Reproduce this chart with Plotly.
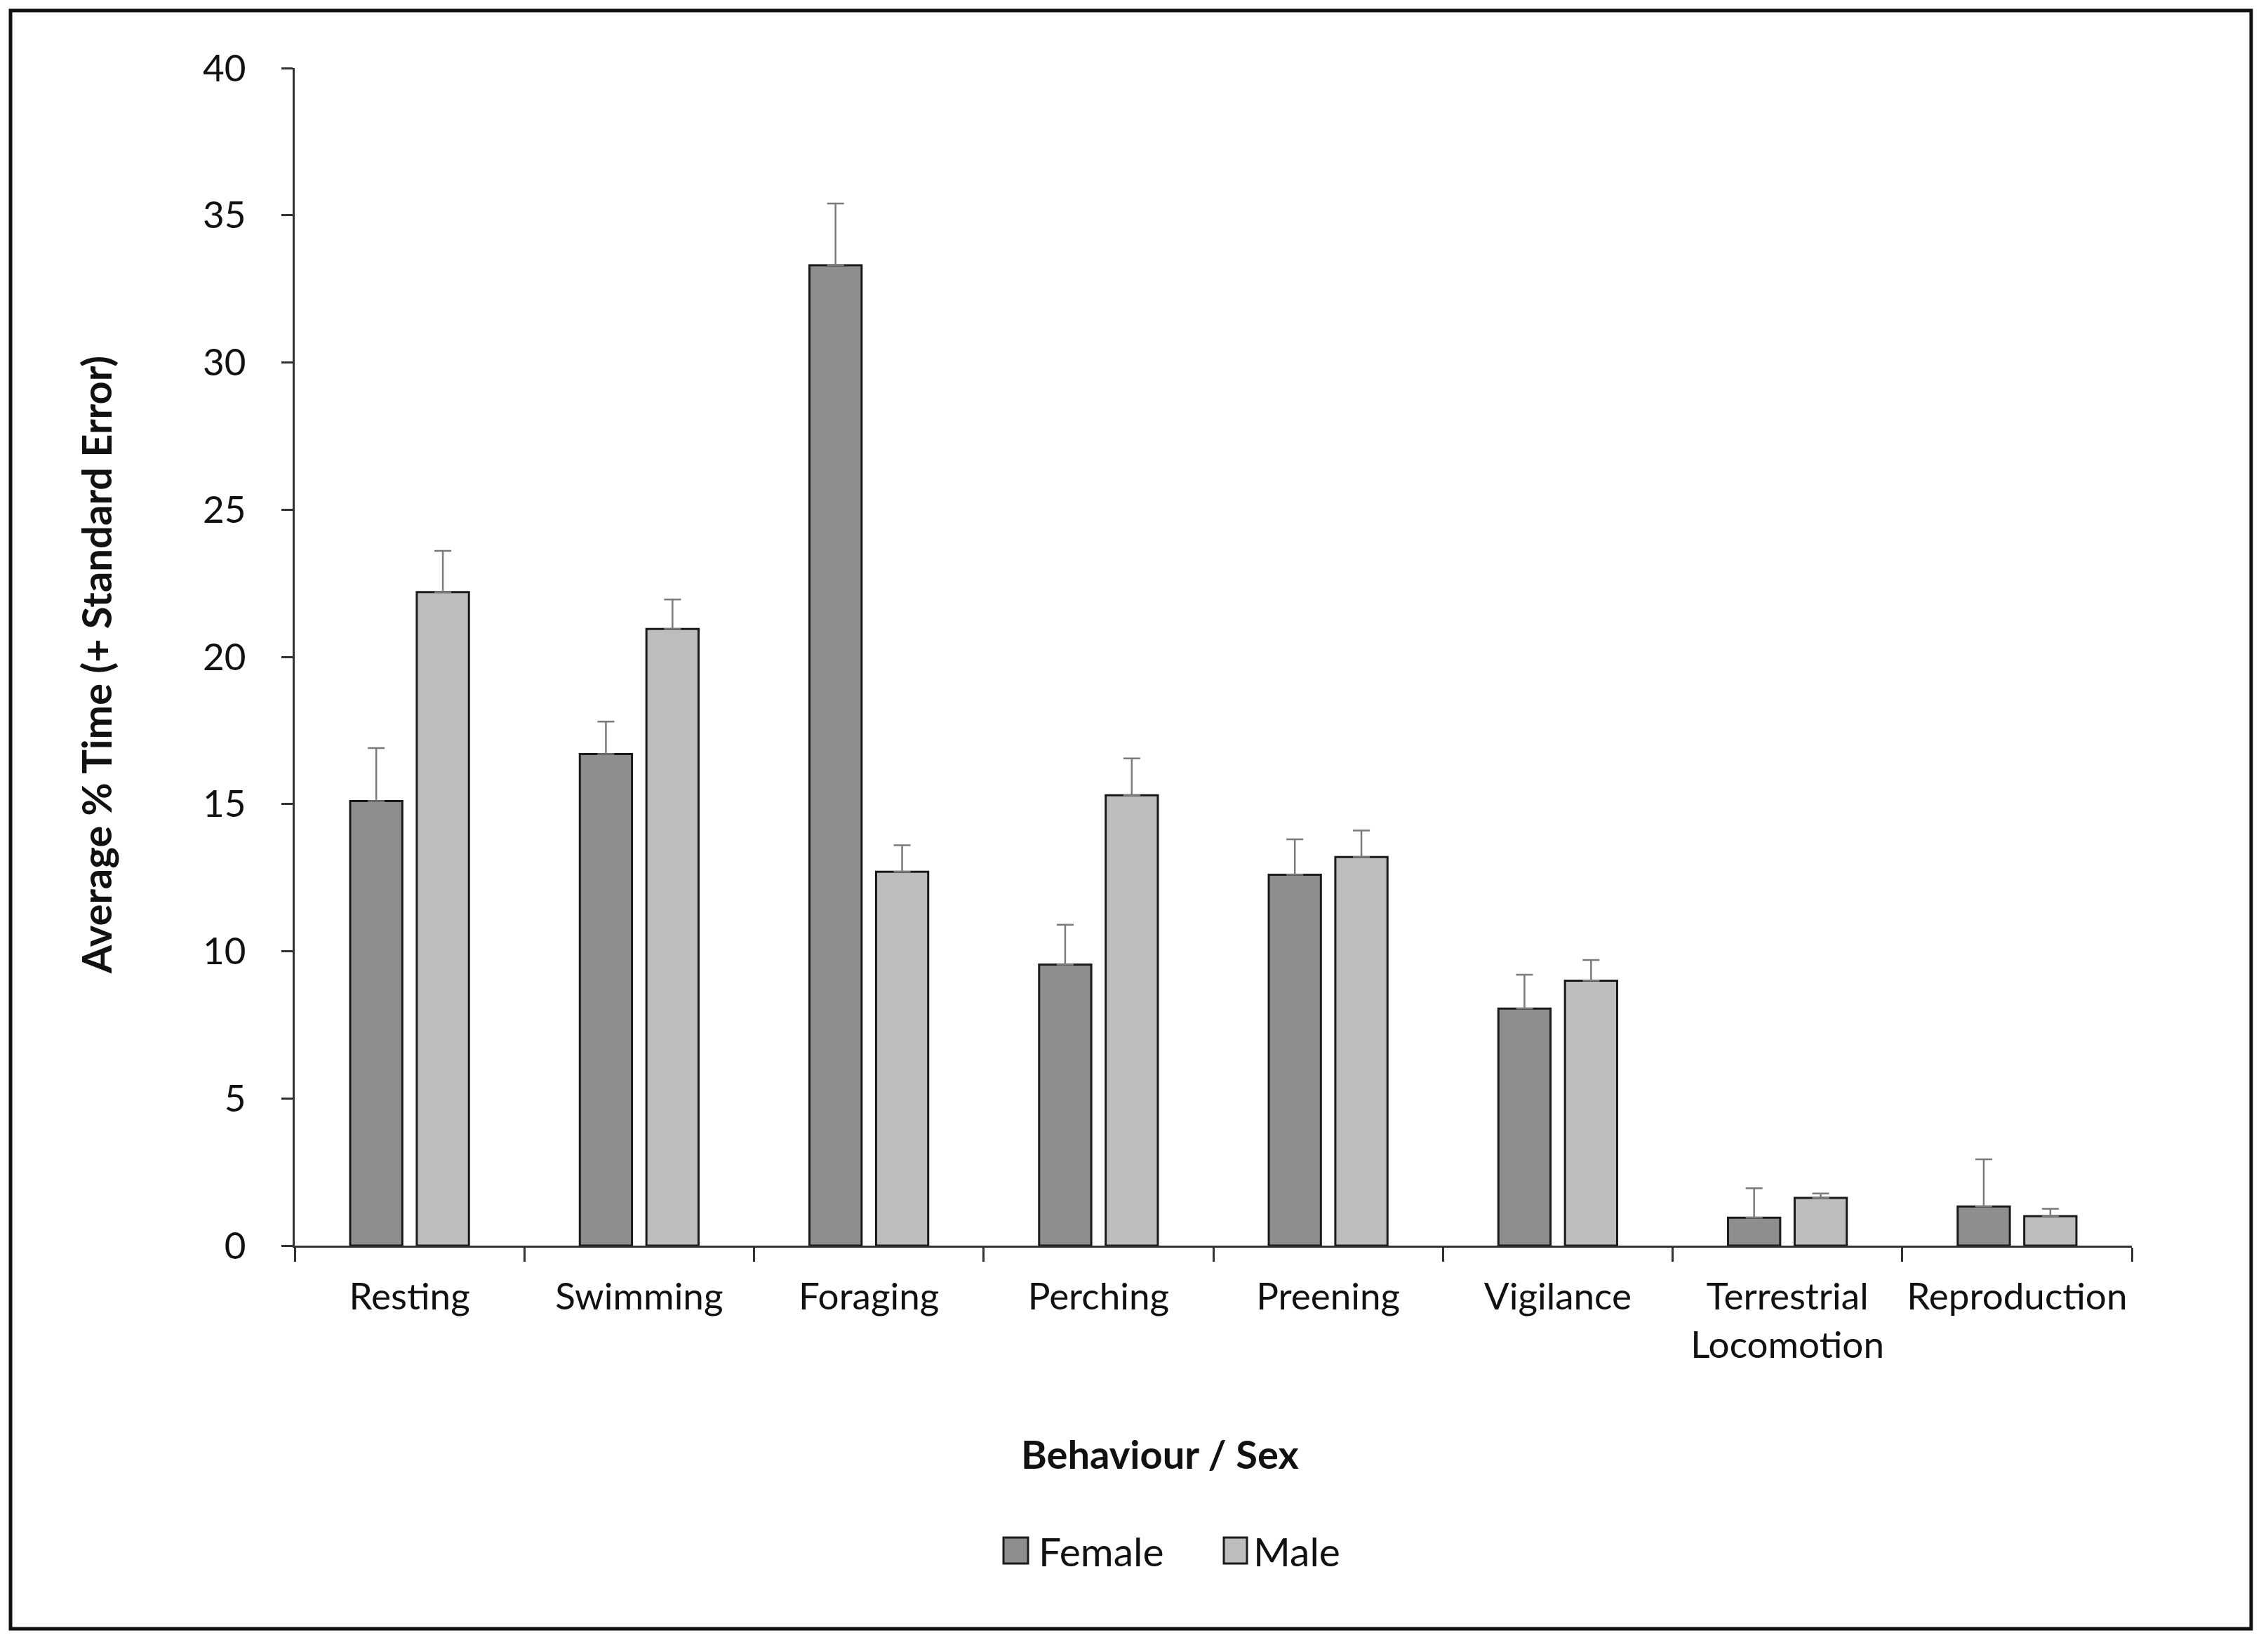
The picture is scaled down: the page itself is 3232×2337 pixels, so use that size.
import plotly.graph_objects as go

categories = ["Resting", "Swimming", "Foraging", "Perching", "Preening",
              "Vigilance", "Terrestrial<br>Locomotion", "Reproduction"]
female = [15.1, 16.7, 33.3, 9.55, 12.6, 8.05, 0.95, 1.33]
female_se = [1.8, 1.1, 2.1, 1.35, 1.2, 1.15, 1.0, 1.6]
male = [22.2, 20.95, 12.7, 15.3, 13.2, 9.0, 1.62, 1.0]
male_se = [1.4, 1.0, 0.9, 1.25, 0.9, 0.7, 0.15, 0.25]
series_names = ["Female", "Male"]
y_ticks = [0, 5, 10, 15, 20, 25, 30, 35, 40]

FEMALE_COLOR = "#8e8e8e"
MALE_COLOR = "#bdbdbd"
FONT = "Lato"
TEXT = "#111111"

# page geometry (browser body has an 8px margin)
OFF = 8
PAGE_W, PAGE_H = 3232, 2337
PLOT_L, PLOT_R, PLOT_T, PLOT_B = 420, 3038, 97, 1775
W, H = PAGE_W - OFF, PAGE_H - OFF
ML, MT = PLOT_L - OFF, PLOT_T - OFF
MR, MB = PAGE_W - PLOT_R, PAGE_H - PLOT_B
PW, PH = PLOT_R - PLOT_L, PLOT_B - PLOT_T


def px(x):
    return (x - PLOT_L) / PW


def py(y):
    return (PLOT_B - y) / PH


fig = go.Figure()
for name, vals, errs, col in [(series_names[0], female, female_se, FEMALE_COLOR),
                              (series_names[1], male, male_se, MALE_COLOR)]:
    fig.add_trace(go.Bar(
        name=name, x=categories, y=vals,
        marker=dict(color=col, line=dict(color="#1a1a1a", width=3)),
        error_y=dict(type="data", array=errs, symmetric=False,
                     arrayminus=[0] * len(errs),
                     color="#7a7a7a", thickness=2.5, width=12),
    ))

fig.update_layout(
    width=W, height=H,
    margin=dict(l=ML, r=MR, t=MT, b=MB),
    paper_bgcolor="white", plot_bgcolor="white",
    barmode="group", bargap=0.42, bargroupgap=0.217,
    showlegend=False,
    font=dict(family=FONT, size=53, color=TEXT),
)
fig.update_xaxes(
    type="category", tickson="boundaries", ticks="outside", ticklen=20,
    tickwidth=3, tickcolor="#333333",
    showline=True, linecolor="#333333", linewidth=3,
    showgrid=False, zeroline=False,
    tickfont=dict(family=FONT, size=53, color=TEXT),
    ticklabelstandoff=24,
)
fig.update_yaxes(
    range=[0, 40], tickvals=y_ticks, ticks="outside", ticklen=16,
    tickwidth=3, tickcolor="#333333",
    showline=True, linecolor="#333333", linewidth=3,
    showgrid=False, zeroline=False,
    tickfont=dict(family=FONT, size=53, color=TEXT),
    ticklabelstandoff=40,
)

annotations = [
    dict(text="<b>Average % Time (+ Standard Error)</b>", xref="paper", yref="paper",
         x=px(136), y=py(948), textangle=-90, showarrow=False,
         font=dict(family=FONT, size=58, color=TEXT), xanchor="center", yanchor="middle"),
    dict(text="<b>Behaviour / Sex</b>", xref="paper", yref="paper",
         x=px(1653), y=py(2071), showarrow=False,
         font=dict(family=FONT, size=56, color=TEXT), xanchor="center", yanchor="middle"),
    dict(text=series_names[0], xref="paper", yref="paper",
         x=px(1478), y=py(2210), showarrow=False, xanchor="left", yanchor="middle",
         font=dict(family=FONT, size=57, color=TEXT)),
    dict(text=series_names[1], xref="paper", yref="paper",
         x=px(1784), y=py(2210), showarrow=False, xanchor="left", yanchor="middle",
         font=dict(family=FONT, size=57, color=TEXT)),
]
shapes = [
    dict(type="rect", xref="paper", yref="paper",
         x0=px(1430), x1=px(1465), y0=py(2228), y1=py(2191),
         fillcolor=FEMALE_COLOR, line=dict(color="#1a1a1a", width=3)),
    dict(type="rect", xref="paper", yref="paper",
         x0=px(1744), x1=px(1777), y0=py(2228), y1=py(2191),
         fillcolor=MALE_COLOR, line=dict(color="#1a1a1a", width=3)),
    dict(type="rect", xref="paper", yref="paper",
         x0=px(15), x1=px(3208), y0=py(2321), y1=py(15),
         fillcolor="rgba(0,0,0,0)", line=dict(color="#111111", width=5)),
]
fig.update_layout(annotations=annotations, shapes=shapes)

fig.write_html("out.html")
